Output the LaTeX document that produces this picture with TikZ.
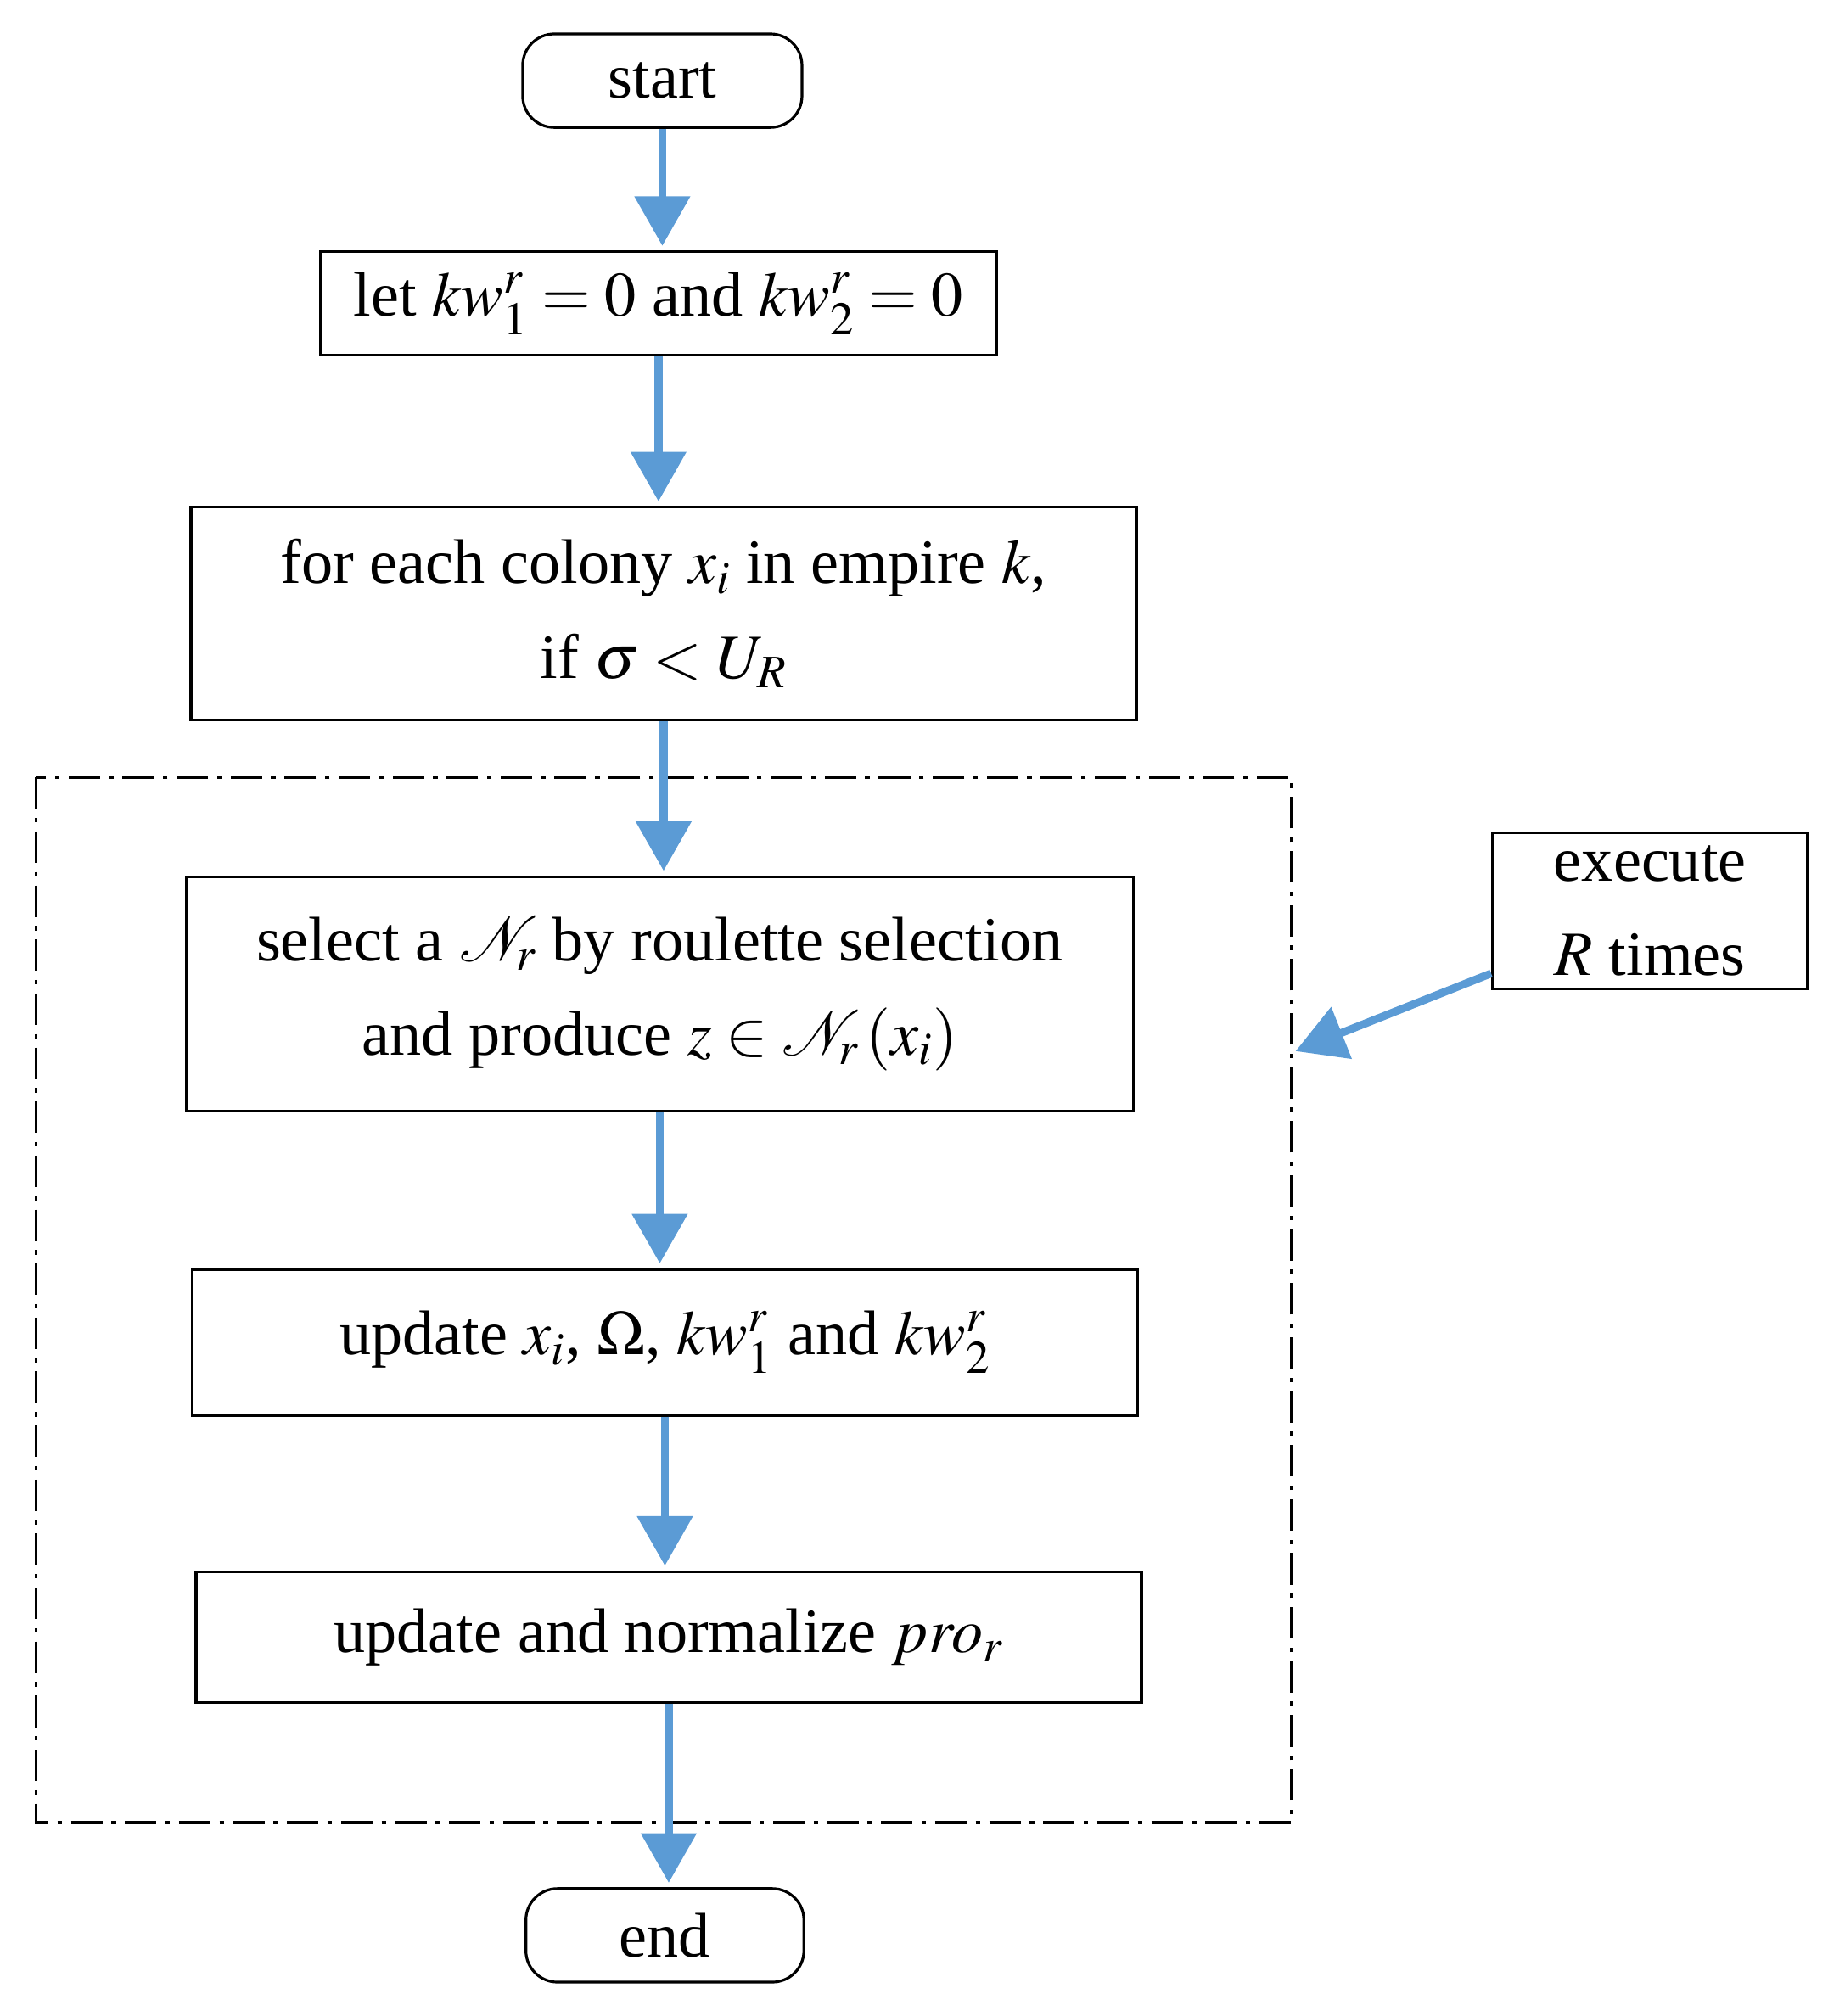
\documentclass[tikz,border=0pt]{standalone}
\usepackage{mathptmx}
\usepackage{fontspec}
\setmainfont{Liberation Serif}
\usetikzlibrary{arrows.meta}
\definecolor{ab}{RGB}{91,155,213}
\begin{document}
\begin{tikzpicture}[x=0.02cm,y=-0.02cm,
  box/.style={draw,line width=1.2pt,inner sep=0pt,align=center,font=\fontsize{28}{42}\selectfont},
  arr/.style={draw=ab,line width=3.5pt,-{Triangle[length=22pt,width=24pt]},shorten >=2pt}]
\useasboundingbox (0,0) rectangle (1440,1574);
\node[box,rounded corners=14pt,minimum width=218*0.02cm,minimum height=73*0.02cm] (start) at (517,63) {start};
\node[box,minimum width=528*0.02cm,minimum height=81*0.02cm] (b1) at (514,237) {let $kw_1^r=0$ and $kw_2^r=0$};
\node[box,minimum width=738*0.02cm,minimum height=166*0.02cm] (b2) at (518,479) {for each colony $x_i$ in empire $k$,\\ if $\sigma<U_R$};
\draw[line width=1.2pt,dash pattern=on 14pt off 4pt on 2pt off 4pt] (28,607) rectangle (1008,1423);
\coordinate (dr) at (1008,822);
\node[box,minimum width=739*0.02cm,minimum height=183*0.02cm] (b3) at (515,776) {select a $\mathcal{N}_r$ by roulette selection\\ and produce $z\in\mathcal{N}_r\left(x_i\right)$};
\node[box,minimum width=738*0.02cm,minimum height=114*0.02cm] (b4) at (519,1048) {update $x_i$, $\Omega$, $kw_1^r$ and $kw_2^r$};
\node[box,minimum width=738*0.02cm,minimum height=102*0.02cm] (b5) at (522,1278) {update and normalize $pro_r$};
\node[box,rounded corners=14pt,minimum width=217*0.02cm,minimum height=73*0.02cm] (end) at (519,1511) {end};
\node[box,minimum width=246*0.02cm,minimum height=122*0.02cm] (ex) at (1288,711) {execute\\ $R$ times};
\draw[arr] (start.south) -- (start.south|-b1.north);
\draw[arr] (b1.south) -- (b1.south|-b2.north);
\draw[arr] (b2.south) -- (b2.south|-b3.north);
\draw[arr] (b3.south) -- (b3.south|-b4.north);
\draw[arr] (b4.south) -- (b4.south|-b5.north);
\draw[arr] (b5.south) -- (b5.south|-end.north);
\draw[arr] (ex.west|-0,760) -- (dr);
\end{tikzpicture}
\end{document}
